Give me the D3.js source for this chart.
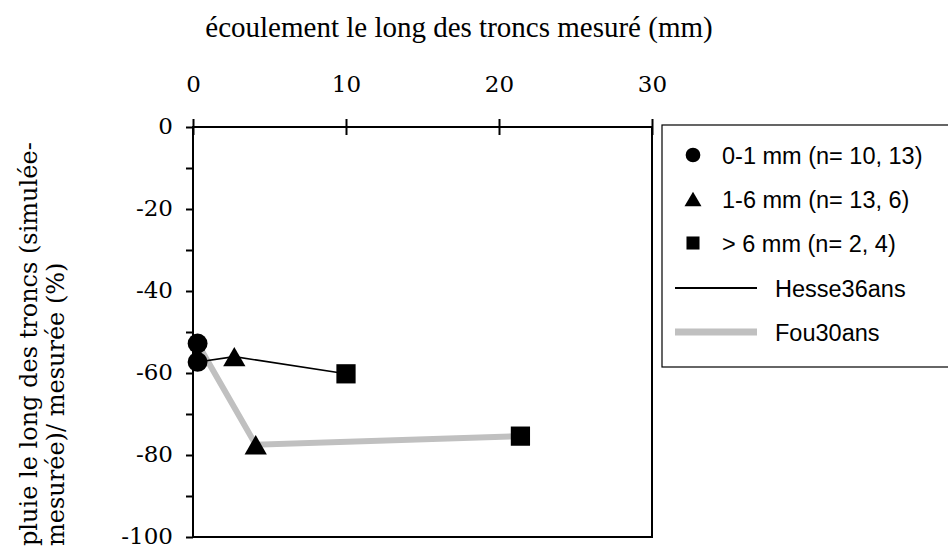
<!DOCTYPE html>
<html><head><meta charset="utf-8">
<script src="https://cdn.jsdelivr.net/npm/d3@7"></script>
<style>body{margin:0;background:#fff}svg{display:block}</style>
</head><body>
<svg id="c" width="948" height="546"></svg>
<script>
const xTicks = [0, 10, 20, 30];
const yTicks = [0, -20, -40, -60, -80, -100];
const yMinorTicks = [-10, -30, -50, -70, -90];
const classes = ["0-1 mm (n= 10, 13)", "1-6 mm (n= 13, 6)", "> 6 mm (n= 2, 4)"];
const symbols = ["circle", "triangle", "square"];
const seriesNames = ["Hesse36ans", "Fou30ans"];
const hesseX = [0.3, 2.7, 10.0];
const hesseY = [-57.3, -56.0, -60.2];
const fouX = [0.3, 4.1, 21.4];
const fouY = [-52.8, -77.5, -75.4];
const titleText = "écoulement le long des troncs mesuré (mm)";
const yLabelLines = ["pluie le long des troncs (simulée-", "mesurée)/ mesurée (%)"];

const svg = d3.select("#c");
const x = d3.scaleLinear().domain([0, 30]).range([193, 652]);
const y = d3.scaleLinear().domain([0, -100]).range([127, 537]);
const serif = "DejaVu Serif";
const sans = "Liberation Sans";

// frame
svg.append("rect").attr("x", x(0)).attr("y", y(0)).attr("width", x(30) - x(0)).attr("height", y(-100) - y(0))
  .attr("fill", "none").attr("stroke", "#000").attr("stroke-width", 2);

// top x axis
const xAxis = d3.axisTop(x).tickValues(xTicks).tickSize(8).tickPadding(27).tickFormat(d => String(d));
const gx = svg.append("g").attr("transform", `translate(0,${y(0)})`).call(xAxis);
gx.select(".domain").remove();
gx.selectAll(".tick line").attr("y1", 8).attr("y2", -8).attr("stroke-width", 2);
gx.selectAll("text").style("font-family", serif).style("font-size", "23px").attr("fill", "#000");

// left y axis
const yAxis = d3.axisLeft(y).tickValues(yTicks).tickSize(7).tickPadding(13).tickFormat(d => String(d));
const gy = svg.append("g").attr("transform", `translate(${x(0)},0)`).call(yAxis);
gy.select(".domain").remove();
gy.selectAll(".tick line").attr("stroke-width", 2);
gy.selectAll("text").style("font-family", serif).style("font-size", "23px").attr("fill", "#000").attr("dy", "0.3em");
const gym = svg.append("g").attr("transform", `translate(${x(0)},0)`)
  .call(d3.axisLeft(y).tickValues(yMinorTicks).tickSize(7).tickFormat(""));
gym.select(".domain").remove();
gym.selectAll(".tick line").attr("stroke-width", 2);

// lines
const line = d3.line().x(d => x(d[0])).y(d => y(d[1]));
const fouPts = fouX.map((v, i) => [v, fouY[i]]);
const hessePts = hesseX.map((v, i) => [v, hesseY[i]]);
svg.append("path").datum(fouPts).attr("d", line).attr("fill", "none").attr("stroke", "#c0c0c0").attr("stroke-width", 6);
svg.append("path").datum(hessePts).attr("d", line).attr("fill", "none").attr("stroke", "#000").attr("stroke-width", 1.6);

const symMap = {circle: d3.symbolCircle, triangle: d3.symbolTriangle, square: d3.symbolSquare};
function triShift(area) { const s = Math.sqrt(4 * area / Math.sqrt(3)); return s * Math.sqrt(3) / 2 / 6; }
function drawSym(type, area, cx, cy) {
  const dy = type === "triangle" ? triShift(area) : 0;
  svg.append("path").attr("d", d3.symbol().type(symMap[type]).size(area)())
    .attr("transform", `translate(${cx},${cy + dy})`).attr("fill", "#000");
}
const bigSize = {circle: 310, triangle: 215, square: 370};
[hessePts, fouPts].forEach(pts => {
  pts.forEach((p, i) => drawSym(symbols[i], bigSize[symbols[i]], x(p[0]), y(p[1])));
});

// title
svg.append("text").attr("x", 459).attr("y", 37).attr("text-anchor", "middle")
  .style("font-family", "Liberation Serif").style("font-size", "29px").attr("fill", "#000").text(titleText);

// y label
const yl = svg.append("text").attr("transform", "translate(0,546) rotate(-90)")
  .style("font-family", serif).style("font-size", "24px").attr("fill", "#000");
yLabelLines.forEach((t, i) => yl.append("tspan").attr("x", 0).attr("y", 37 + i * 27).text(t));

// legend
svg.append("rect").attr("x", 662).attr("y", 125).attr("width", 300).attr("height", 242)
  .attr("fill", "#fff").attr("stroke", "#000").attr("stroke-width", 1.2);
const legSize = {circle: 170, triangle: 125, square: 170};
const rowY = [155, 199, 243, 288, 332];
classes.forEach((c, i) => {
  drawSym(symbols[i], legSize[symbols[i]], 693, rowY[i]);
  svg.append("text").attr("x", 722).attr("y", rowY[i] + 8.5).style("font-family", sans)
    .style("font-size", "23.5px").attr("fill", "#000").text(c);
});
const legStyles = [{c: "#000", w: 2}, {c: "#c0c0c0", w: 7}];
seriesNames.forEach((s, i) => {
  const yy = rowY[3 + i];
  svg.append("line").attr("x1", 675).attr("x2", 757).attr("y1", yy).attr("y2", yy)
    .attr("stroke", legStyles[i].c).attr("stroke-width", legStyles[i].w);
  svg.append("text").attr("x", 775).attr("y", yy + 8.5).style("font-family", sans)
    .style("font-size", "23.5px").attr("fill", "#000").text(s);
});
</script>
</body></html>
